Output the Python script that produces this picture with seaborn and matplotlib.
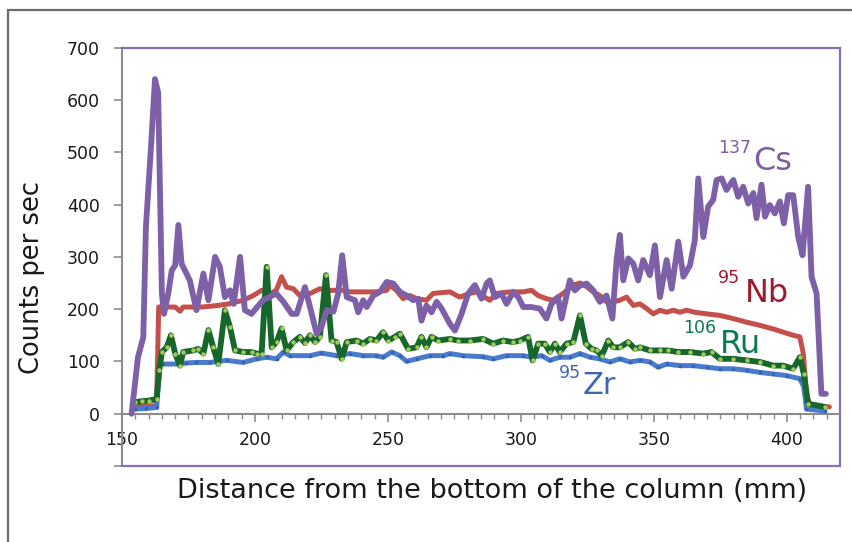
import matplotlib
matplotlib.use("Agg")
import matplotlib.pyplot as plt
import seaborn as sns
import pandas as pd
from matplotlib.patches import Rectangle

# ---------------- data ----------------
cs_x = [153.6, 156, 158, 159, 161, 162.4, 163.6, 165, 165.8, 167.4, 168.7, 170, 171.2, 172.4, 175.5, 178,
        180.6, 182.5, 185, 186.8, 188.7, 190.6, 192, 194.4, 196.2, 198.7, 203, 208, 210.7, 213.8, 215.7,
        218.8, 220.7, 223.2, 225, 227, 229.5, 231.3, 232.8, 234.5, 237.6, 238.8, 240.7, 242, 244.5, 247,
        249.5, 252, 254.5, 257, 259.5, 261.4, 262.6, 264.5, 266.4, 268.3, 270.2, 273.3, 275.2, 277.7, 280.2,
        282.7, 285.2, 287.1, 288.3, 290.2, 292.7, 294.6, 297.1, 299, 300.9, 304, 307.1, 309.6, 311.5, 314,
        315.3, 318.4, 320.3, 322.2, 324.7, 327.2, 329.7, 332.2, 334.4, 336, 337.2, 338.5, 340.4, 342.3,
        344.1, 346, 348.5, 350.4, 352.3, 354.8, 356.7, 359.2, 361.1, 363.6, 365.4, 366.7, 368.6, 370.4,
        372.3, 373.6, 375.5, 377.3, 379.9, 381.7, 383.6, 385.5, 387.4, 388.6, 390.5, 391.8, 393.6, 395.5,
        397.4, 398.9, 400.5, 402.4, 404.3, 405.9, 408, 409.3, 411.2, 413, 414.7]
cs_y = [0, 108, 146, 358, 518, 640, 614, 230, 191, 230, 274, 284, 361, 287, 255, 198,
        268, 217, 300, 281, 223, 236, 210, 300, 198, 191, 217, 230, 214, 191, 191,
        242, 204, 153, 166, 198, 195, 230, 303, 223, 217, 194, 217, 204, 226, 233,
        252, 249, 233, 226, 217, 220, 178, 207, 194, 214, 201, 172, 159, 191, 230,
        246, 220, 249, 255, 223, 230, 210, 233, 223, 204, 204, 201, 182, 210, 223,
        182, 255, 236, 245, 249, 236, 214, 226, 182, 294, 342, 255, 297, 287,
        255, 294, 265, 322, 223, 294, 239, 329, 262, 284, 332, 450, 338, 396,
        409, 447, 450, 428, 447, 415, 434, 402, 422, 374, 438, 377, 399, 383,
        406, 364, 418, 418, 338, 303, 434, 262, 230, 38, 38]

nb_x = [155, 163, 163.8, 166, 170, 171.8, 173, 180, 186, 190, 195.6, 199.4, 202.5, 206, 208, 210, 211.9,
        214.4, 216.9, 220.7, 224.4, 228, 233, 235.7, 240.7, 245.7, 249.5, 250.7, 253.2, 255.7, 258.3,
        260.8, 264.5, 267, 273.3, 277, 280.8, 283.3, 288.3, 290.8, 295.8, 300.9, 304, 306.5, 309.6, 312.1,
        315.9, 319.7, 322.2, 324.7, 327.2, 329.7, 332.2, 334.7, 337.2, 339.7, 342.3, 344.8, 347.3, 349.8,
        352.3, 354.8, 357.3, 359.8, 362.3, 365.4, 369.8, 374.8, 379.8, 384.9, 389.9, 394.9, 398.6, 402.4,
        404.9, 406.2, 407.4, 408.7, 416]
nb_y = [15, 15, 204, 204, 204, 196, 204, 204, 207, 210, 217, 226, 236, 230, 236, 262, 242,
        239, 226, 230, 239, 236, 236, 233, 233, 233, 236, 246, 236, 220, 226,
        220, 217, 230, 233, 223, 230, 233, 217, 230, 233, 233, 236, 226, 220, 217,
        230, 246, 250, 243, 233, 226, 214, 214, 217, 223, 207, 210, 201, 191,
        198, 194, 198, 194, 198, 194, 191, 188, 182, 175, 169, 162, 156, 150,
        147, 115, 38, 15, 13]

ru_x = [155, 157.5, 160, 163, 164, 165, 166.8, 168.4, 170, 171.8, 173, 176.8, 178.7, 180.6, 182.5, 184.3,
        186.2, 188.7, 190.6, 192.5, 195.6, 198.7, 200.6, 202.5, 204.4, 206.3, 208.1, 210, 211.9, 214.4,
        216.9, 218.8, 220.7, 222.6, 224.4, 226.7, 228.8, 230.7, 232.6, 234.5, 238.2, 240.7, 243.2, 245.7,
        248.2, 250.1, 252.6, 254.5, 257.6, 260.8, 262.6, 264.5, 266.4, 268.9, 273.3, 276.4, 280.8, 285.8,
        289.6, 293.3, 297.1, 299.6, 302.7, 304.4, 306.5, 309, 310.9, 312.8, 314.6, 317.2, 319.7, 322.2,
        324.4, 326.6, 328.5, 330.4, 332.9, 334.7, 337.2, 340.4, 342.9, 344.8, 348.5, 352.3, 355.4, 359.2,
        363.6, 368.6, 371.7, 374.8, 379.8, 384.9, 389.9, 394.9, 398.6, 402.4, 404.9, 406.4, 408, 414.3]
ru_y = [22, 24, 25, 28, 83, 118, 127, 150, 115, 92, 118, 121, 124, 115, 160, 127,
        95, 198, 166, 121, 118, 118, 115, 115, 281, 127, 137, 163, 121, 137,
        147, 135, 150, 137, 147, 265, 140, 137, 105, 137, 140, 134, 143, 140,
        156, 140, 147, 153, 124, 127, 147, 127, 147, 140, 143, 140, 140, 143,
        134, 140, 137, 140, 147, 102, 134, 134, 118, 134, 118, 134, 137, 188,
        134, 124, 121, 111, 140, 127, 127, 137, 124, 127, 121, 121, 121, 118,
        118, 115, 118, 105, 105, 102, 99, 92, 92, 86, 108, 76, 19, 13]

zr_x = [155, 159, 163, 164.3, 165.5, 170.5, 174, 178, 183, 189.3, 195.6, 200.6, 204.4, 208.1, 210.7, 213.2,
        220.7, 225, 230.7, 235.7, 240.7, 245.7, 248.2, 251.4, 254.5, 257, 260.8, 265.8, 270.8, 273.3, 278.3,
        285.8, 289.6, 294.6, 300.9, 304, 307.8, 310.9, 314.6, 318.4, 322.2, 326, 329.7, 333.5, 337.2, 341,
        344.8, 348.5, 351.6, 354.8, 359.8, 364.8, 369.8, 374.8, 379.8, 384.9, 389.9, 394.9, 399.9, 404.9,
        406.4, 407.4, 414.3]
zr_y = [9, 10, 12, 98, 95, 95, 97, 98, 98, 102, 98, 105, 108, 105, 118, 111,
        111, 116, 111, 115, 111, 111, 108, 118, 111, 100, 105, 111, 111, 115, 111,
        109, 105, 111, 111, 108, 111, 102, 108, 108, 115, 108, 105, 99, 105, 99,
        102, 99, 89, 95, 92, 92, 89, 86, 86, 83, 79, 76, 73, 67,
        51, 9, 5]

x_ticks = [150, 200, 250, 300, 350, 400]
y_ticks = [-100, 0, 100, 200, 300, 400, 500, 600, 700]
y_ticklabels = ["", "0", "100", "200", "300", "400", "500", "600", "700"]

# ---------------- style ----------------
sns.set_style("white")
plt.rcParams["font.family"] = ["DejaVu Sans"]

C_CS = "#7d60a8"
C_NB = "#c4504b"
C_RU = "#17672c"
C_RU_M = "#a3c95b"
C_ZR = "#4a7bcc"
C_ZR_M = "#3562b3"
PURPLE_FRAME = "#8a6db5"
GRAY = "#8c8c8c"

W, H = 853, 542
fig = plt.figure(figsize=(W / 100, H / 100), dpi=100)
ax = fig.add_axes([122 / W, 1 - 466 / H, (840 - 122) / W, (466 - 47.7) / H])

# outer border
fig.add_artist(Rectangle((8 / W, -0.2), 1.3, 1 - 10 / H + 0.2, transform=fig.transFigure,
                         fill=False, edgecolor="#6b6b6b", linewidth=1.6))

# ---------------- series ----------------
sns.lineplot(x=nb_x, y=nb_y, ax=ax, color=C_NB, linewidth=3.6, estimator=None, sort=False, zorder=2)
sns.lineplot(x=zr_x, y=zr_y, ax=ax, color=C_ZR, linewidth=3.6, estimator=None, sort=False, zorder=3,
             marker="o", markersize=2.6, markerfacecolor=C_ZR_M, markeredgewidth=0)
sns.lineplot(x=ru_x, y=ru_y, ax=ax, color=C_RU, linewidth=4.2, estimator=None, sort=False, zorder=4,
             marker="o", markersize=3.2, markerfacecolor=C_RU_M, markeredgewidth=0)
sns.lineplot(x=cs_x, y=cs_y, ax=ax, color=C_CS, linewidth=4.2, estimator=None, sort=False, zorder=5)

# ---------------- axes ----------------
ax.set_xlim(150, 420)
ax.set_ylim(-100, 700)
ax.set_xlabel("")
ax.set_ylabel("")

ax.spines["bottom"].set_position(("data", 0))
ax.spines["bottom"].set_color(GRAY)
ax.spines["bottom"].set_linewidth(1.5)
ax.spines["left"].set_color(GRAY)
ax.spines["left"].set_linewidth(1.5)
for s in ("top", "right"):
    ax.spines[s].set_color(PURPLE_FRAME)
    ax.spines[s].set_linewidth(1.6)
ax.plot([0, 1], [0, 0], transform=ax.transAxes, color=PURPLE_FRAME, linewidth=1.6,
        clip_on=False, zorder=6)

ax.set_xticks(x_ticks)
ax.set_xticks(range(155, 420, 5), minor=True)
ax.set_yticks(y_ticks)
ax.set_yticklabels(y_ticklabels)
ax.tick_params(axis="x", which="major", direction="out", length=5.5, width=1.2, color=GRAY,
               labelsize=12.5, pad=7, labelcolor="#1a1a1a", bottom=True)
ax.tick_params(axis="x", which="minor", direction="out", length=3.5, width=1.0, color=GRAY, bottom=True)
ax.tick_params(axis="y", which="major", direction="out", length=6, width=1.2, color=GRAY,
               labelsize=12.5, pad=10, labelcolor="#1a1a1a", left=True)

# ---------------- labels ----------------
fig.text(32 / W, 1 - 277 / H, "Counts per sec", rotation=90, ha="center", va="center",
         fontsize=18.5, color="#1a1a1a")
fig.text(492 / W, 1 - 498 / H, "Distance from the bottom of the column (mm)", ha="center",
         va="baseline", fontsize=19.5, color="#1a1a1a")

labels = [
    ("137", "Cs", (374.1, 499), (387.2, 466), "#7b5ea7", 23),
    ("95", "Nb", (374.1, 250), (384.2, 213), "#9b1c2e", 23),
    ("106", "Ru", (360.9, 154), (374.8, 117), "#0b7a50", 23),
    ("95", "Zr", (314.3, 69), (323.3, 38), "#3d66b8", 22),
]
for sup, main, p_sup, p_main, col, fs in labels:
    ax.text(p_sup[0], p_sup[1], sup, color=col, fontsize=12.5, ha="left", va="baseline", zorder=7)
    ax.text(p_main[0], p_main[1], main, color=col, fontsize=fs, ha="left", va="baseline", zorder=7)

fig.savefig("out.png", dpi=100)
